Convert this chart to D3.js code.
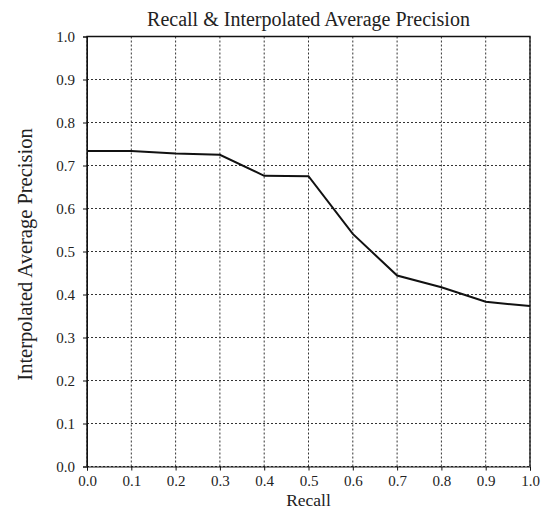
<!DOCTYPE html>
<html>
<head>
<meta charset="utf-8">
<script src="https://cdn.jsdelivr.net/npm/d3@7"></script>
<style>
  body { margin: 0; background: #fff; }
  text { font-family: "Liberation Serif", "Times New Roman", serif; fill: #222; }
  .grid line { stroke: #333; stroke-dasharray: 2,2; stroke-width: 1; }
  .axis path, .axis line { stroke: #111; }
</style>
</head>
<body>
<script>
const recall = [0.0, 0.1, 0.2, 0.3, 0.4, 0.5, 0.6, 0.7, 0.8, 0.9, 1.0]
const precision = [0.734, 0.734, 0.728, 0.725, 0.676, 0.675, 0.541, 0.444, 0.417, 0.383, 0.373]
const ticks = [0, 0.1, 0.2, 0.3, 0.4, 0.5, 0.6, 0.7, 0.8, 0.9, 1.0]

const width = 546
const height = 514
const margin = {top: 36.5, right: 16, bottom: 47.5, left: 87}

const svg = d3.select('body')
    .append('svg')
    .attr('width', width)
    .attr('height', height)

const x = d3.scaleLinear()
    .domain([0, 1])
    .range([margin.left, width - margin.right])

const y = d3.scaleLinear()
    .domain([0, 1])
    .range([height - margin.bottom, margin.top])

// dotted grid
const grid = svg.append('g').attr('class', 'grid')
grid.selectAll('line.v')
    .data(ticks)
    .enter()
    .append('line')
    .attr('x1', d => x(d))
    .attr('x2', d => x(d))
    .attr('y1', y(0))
    .attr('y2', y(1))
grid.selectAll('line.h')
    .data(ticks)
    .enter()
    .append('line')
    .attr('x1', x(0))
    .attr('x2', x(1))
    .attr('y1', d => y(d))
    .attr('y2', d => y(d))

// frame: solid left, top, right
svg.append('path')
    .attr('d', `M${x(0)},${y(0)}V${y(1)}H${x(1)}V${y(0)}`)
    .attr('fill', 'none')
    .attr('stroke', '#111')
    .attr('stroke-width', 1.3)

svg.append('g')
    .attr('class', 'axis')
    .attr('transform', `translate(0,${y(0)})`)
    .call(d3.axisBottom(x).tickValues(ticks).tickFormat(d3.format('.1f')).tickSize(4).tickPadding(5))
    .call(g => g.selectAll('text').attr('font-size', 15))

svg.append('g')
    .attr('class', 'axis')
    .attr('transform', `translate(${x(0)},0)`)
    .call(d3.axisLeft(y).tickValues(ticks).tickFormat(d3.format('.1f')).tickSize(4).tickPadding(8))
    .call(g => g.selectAll('text').attr('font-size', 15))

const line = d3.line()
    .x((d, i) => x(recall[i]))
    .y(d => y(d))

svg.append('path')
    .datum(precision)
    .attr('d', line)
    .attr('fill', 'none')
    .attr('stroke', '#111')
    .attr('stroke-width', 2)

svg.append('text')
    .attr('x', (x(0) + x(1)) / 2)
    .attr('y', 25.5)
    .attr('text-anchor', 'middle')
    .attr('font-size', 20)
    .text('Recall & Interpolated Average Precision')

svg.append('text')
    .attr('x', (x(0) + x(1)) / 2)
    .attr('y', 506)
    .attr('text-anchor', 'middle')
    .attr('font-size', 17.5)
    .text('Recall')

svg.append('text')
    .attr('transform', `translate(32,${(y(0) + y(1)) / 2 + 3}) rotate(-90)`)
    .attr('text-anchor', 'middle')
    .attr('font-size', 20.5)
    .text('Interpolated Average Precision')
</script>
</body>
</html>
